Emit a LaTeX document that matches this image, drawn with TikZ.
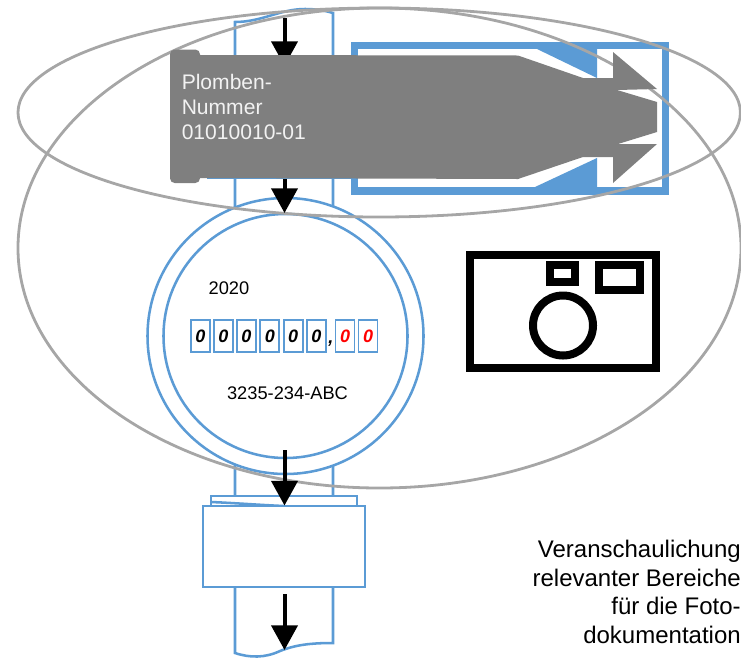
\documentclass[tikz,border=0pt]{standalone}
\usepackage{fontspec}
\setmainfont{Liberation Sans}
\usetikzlibrary{arrows.meta}
\begin{document}
\begin{tikzpicture}[x=0.75pt,y=0.75pt,yscale=-1,xscale=1,
  pipeline/.style={color={rgb, 255:red, 91; green, 155; blue, 213 },line width=1.9},
  marker/.style={color={rgb, 255:red, 166; green, 166; blue, 166 },line width=2.1},
  sealgray/.style={fill={rgb, 255:red, 127; green, 127; blue, 127 },draw=none},
  framefill/.style={fill={rgb, 255:red, 91; green, 155; blue, 213 },draw=none},
  flowarrow/.style={line width=3,-{Triangle[length=18.5pt,width=19.5pt]}},
  camera/.style={line width=6},
  digitbox/.style={draw={rgb, 255:red, 91; green, 155; blue, 213 },line width=1.4,minimum width=14.3pt,minimum height=24.2pt,inner sep=0pt,font=\fontsize{13.5}{16}\selectfont\bfseries\itshape},
  smalltext/.style={font=\fontsize{13.7}{16}\selectfont,inner sep=0pt}]
\useasboundingbox (0,0) rectangle (741,657);

%Shape: Pipe upper part
\draw [pipeline] (235,500) -- (235,22) .. controls (262,22) and (280,9) .. (305,9) .. controls (318,9) and (326,11) .. (333,13) -- (333,500) ;
%Shape: Pipe lower part
\draw [pipeline] (235,587) -- (235,653) .. controls (250,658) and (265,658) .. (280,651) .. controls (295,645) and (310,643) .. (333,643) -- (333,587) ;
%Shape: Meter rings
\draw [pipeline,fill=white] (285.5,336) circle [radius=138] ;
\draw [pipeline] (285.5,336) circle [radius=122] ;
%Shape: Flange
\draw [pipeline,fill=white] (211,506) -- (211,496) -- (357,496) -- (357,506) ;
\draw [pipeline] (211,502) .. controls (235,503) and (260,505) .. (284,506) ;
%Shape: Box
\draw [pipeline,fill=white] (203,506) rectangle (365,587) ;

%Shape: Frame
\draw [pipeline,line width=5.6] (354.5,45.5) rectangle (665.5,191) ;
\fill [framefill] (537,49) -- (597,78) -- (597,49) -- cycle ;
\fill [framefill] (535,187) -- (597,158) -- (597,187) -- cycle ;

%Shape: Ellipses
\draw [marker] (379.2,112.5) ellipse [x radius=361.2, y radius=104.5] ;
\draw [marker] (379.5,248) ellipse [x radius=361.5, y radius=240] ;

%Straight Lines: flow arrows
\draw [flowarrow] (284.5,18) -- (284.5,66) ;
\draw [flowarrow] (284.5,178) -- (284.5,213) ;
\draw [flowarrow] (284.5,450) -- (284.5,505.5) ;
\draw [flowarrow] (284.5,594) -- (284.5,650) ;

%Shape: Seal
\draw [pipeline] (207,178) -- (351,178) ;
\fill [sealgray,rounded corners=3.5pt] (170,49.5) rectangle (200,183) ;
\fill [sealgray] (198,55) -- (518,55.5) -- (583,78) -- (613,78) -- (613,52) -- (657,89) -- (617,90) -- (657,102) -- (657,132) -- (618,144) -- (657,144) -- (613,183) -- (613,157) -- (583,157) -- (518,179) -- (198,178) -- cycle ;

%Shape: Camera
\draw [camera] (470,255) rectangle (656,368) ;
\draw [camera] (550,265) rectangle (575,282) ;
\draw [camera] (599,265) rectangle (640,290) ;
\draw [camera] (563,325.5) circle [radius=30] ;

%Counter digits
\foreach \i/\xpos/\digcol in {1/200.3/black,2/223.5/black,3/246.5/black,4/269.8/black,5/293.2/black,6/316.3/black,7/345/red,8/368/red}
  \node [digitbox,text=\digcol] (digit\i) at (\xpos,336) {0};

% Text Node
\node [smalltext] (comma) at (331,344) {\bfseries\itshape ,};
% Text Node
\node [smalltext] (year) at (229,288) {2020};
% Text Node
\node [smalltext] (serial) at (287.5,393) {3235-234-ABC};
% Text Node
\node [anchor=west,inner sep=0pt,text={rgb, 255:red, 242; green, 242; blue, 242 },align=left,font=\fontsize{15.8}{19}\selectfont] (sealtext) at (181.5,107) {Plomben-\\Nummer\\01010010-01};
% Text Node
\node [anchor=east,inner sep=0pt,align=right,font=\fontsize{18}{21.5}\selectfont] (caption) at (741,592) {Veranschaulichung\\relevanter Bereiche\\für die Foto-\\dokumentation};
\end{tikzpicture}
\end{document}
